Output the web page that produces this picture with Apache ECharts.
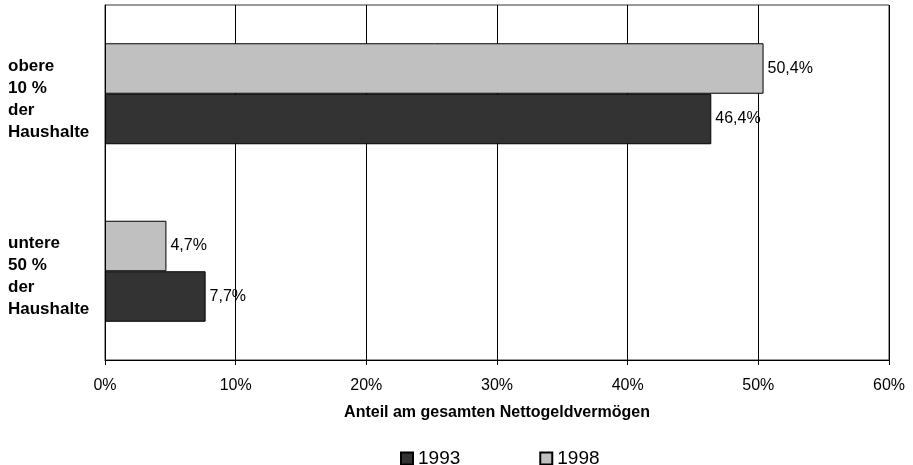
<!DOCTYPE html>
<html>
<head>
<meta charset="utf-8">
<script src="https://cdn.jsdelivr.net/npm/echarts@6/dist/echarts.min.js"></script>
<style>html,body{margin:0;padding:0;background:#fff;}#c{width:913px;height:465px;}</style>
</head>
<body>
<div id="c"></div>
<script>
const categories = ['untere\n50 %\nder\nHaushalte', 'obere\n10 %\nder\nHaushalte'];
const values1993 = [7.7, 46.4];
const values1998 = [4.7, 50.4];
const seriesNames = ['1993', '1998'];
const axisTitle = 'Anteil am gesamten Nettogeldvermögen';

const font = '"Liberation Sans", Arial, sans-serif';
const chart = echarts.init(document.getElementById('c'), null, {renderer: 'canvas'});
const fmt = v => String(v.toFixed(1)).replace('.', ',') + '%';
const labelCfg = {show: true, position: 'right', distance: 4, fontSize: 16, color: '#000', fontFamily: font, formatter: p => fmt(p.value)};
chart.setOption({
  animation: false,
  textStyle: {fontFamily: font},
  grid: {left: 105, right: 24, top: 5, height: 355, show: true, borderColor: '#333', borderWidth: 1, containLabel: false},
  legend: {
    data: seriesNames, left: 395, top: 444, itemWidth: 12, itemHeight: 12, itemGap: 79,
    icon: 'rect', textStyle: {fontSize: 19, color: '#000', fontFamily: font}
  },
  xAxis: {
    type: 'value', min: 0, max: 60, interval: 10,
    axisLine: {show: true, lineStyle: {color: '#000'}},
    axisTick: {show: true, length: 5, lineStyle: {color: '#000'}},
    axisLabel: {formatter: '{value}%', fontSize: 16, color: '#000', margin: 18, fontFamily: font},
    splitLine: {show: true, lineStyle: {color: '#000', width: 1}},
    name: axisTitle, nameLocation: 'middle', nameGap: 45,
    nameTextStyle: {fontSize: 16, fontWeight: 'bold', color: '#000', fontFamily: font}
  },
  yAxis: {
    type: 'category', data: categories,
    axisLine: {show: true, lineStyle: {color: '#000'}},
    axisTick: {show: false},
    axisLabel: {align: 'left', margin: 97, fontSize: 17, fontWeight: 'bold', color: '#000', lineHeight: 22, fontFamily: font,
      formatter: v => '{s|}\n' + v,
      rich: {s: {lineHeight: 11, fontSize: 1}}}
  },
  series: [
    {name: '1998', type: 'bar', data: values1998, barWidth: 50.5, barGap: '0%',
     itemStyle: {color: '#c0c0c0', borderColor: '#000', borderWidth: 1},
     label: labelCfg},
    {name: '1993', type: 'bar', data: values1993, barWidth: 50.5, barGap: '0%',
     itemStyle: {color: '#333333', borderColor: '#000', borderWidth: 1},
     label: labelCfg}
  ]
});
</script>
</body>
</html>
